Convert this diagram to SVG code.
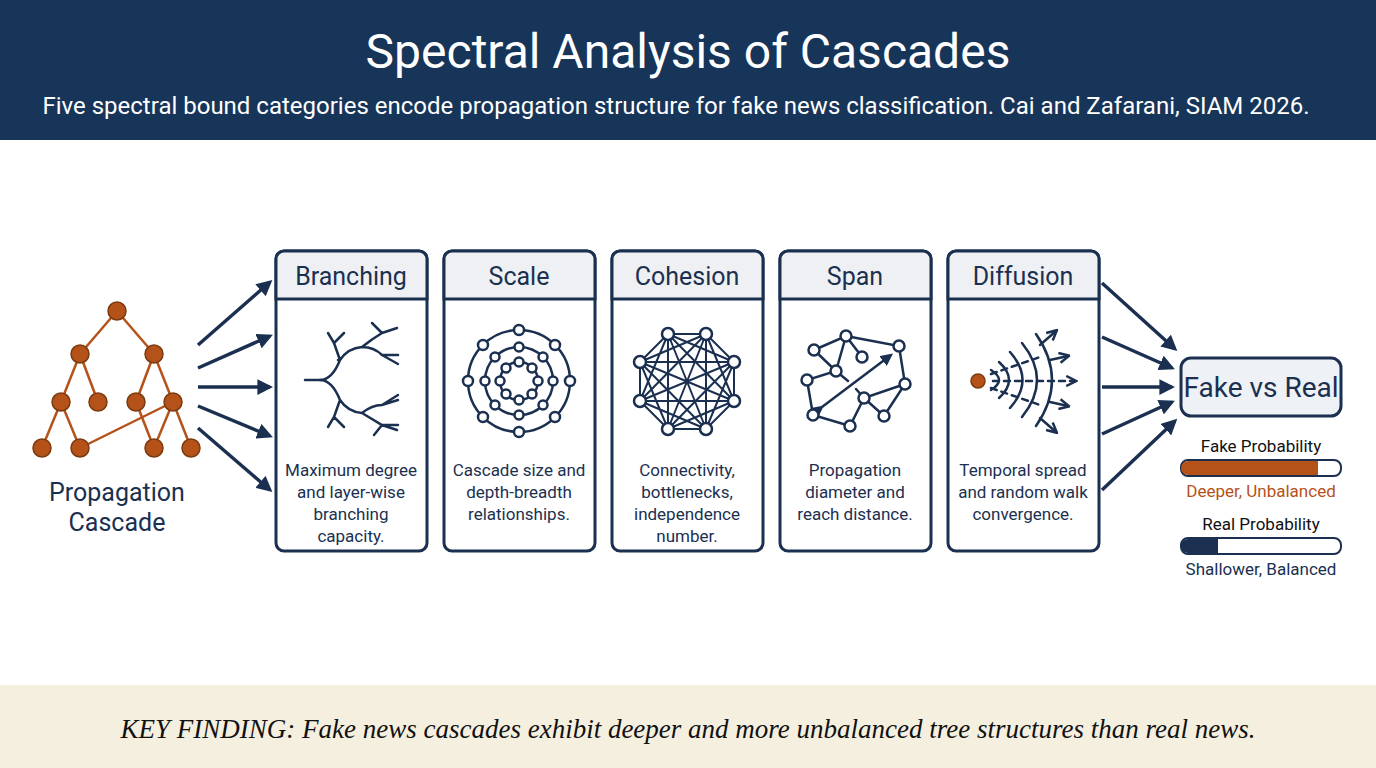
<svg xmlns="http://www.w3.org/2000/svg" width="1376" height="768" viewBox="0 0 1376 768">
<defs>
<style>
.s{font-family:Roboto,"Liberation Sans",sans-serif;fill:#1b3050}
.card{fill:#fff;stroke:#1b3050;stroke-width:3}
.ch{fill:#eef0f3;stroke:#1b3050;stroke-width:3}
.ct{font-size:17px;text-anchor:middle}
.ht{font-size:25px;text-anchor:middle}
.ic{fill:none;stroke:#1b3050;stroke-width:2.5;stroke-linecap:round}
.nd{fill:#fff;stroke:#1b3050;stroke-width:2.5}
.te{stroke:#b5521a;stroke-width:2.5}
.tn{fill:#b5521a;stroke:#7a3a10;stroke-width:1.5}
.ar{stroke:#1b3050;stroke-width:3.5;fill:none;marker-end:url(#ah)}
</style>
<marker id="ah" viewBox="0 0 10 10" refX="8" refY="5" markerWidth="4.5" markerHeight="4.5" orient="auto"><path d="M0,0L10,5L0,10z" fill="#1b3050"/></marker>
<marker id="sa" viewBox="0 0 10 10" refX="8" refY="5" markerWidth="5" markerHeight="5" orient="auto"><path d="M0,0L10,5L0,10z" fill="#1b3050"/></marker>
<marker id="oa" viewBox="0 0 10 10" refX="8" refY="5" markerWidth="5" markerHeight="5" orient="auto"><path d="M1,1L9,5L1,9" fill="none" stroke="#1b3050" stroke-width="2"/></marker>
</defs>
<rect width="1376" height="768" fill="#fff"/>
<g id="header">
<rect width="1376" height="140" fill="#173459"/>
<text x="688" y="68" font-family="Roboto,sans-serif" font-size="48" fill="#fff" text-anchor="middle">Spectral Analysis of Cascades</text>
<text x="676" y="114" font-family="Roboto,sans-serif" font-size="24" fill="#fff" text-anchor="middle">Five spectral bound categories encode propagation structure for fake news classification. Cai and Zafarani, SIAM 2026.</text>
</g>
<g id="cascade">
<g class="te">
<line x1="117" y1="311" x2="80" y2="354"/><line x1="117" y1="311" x2="154" y2="354"/>
<line x1="80" y1="354" x2="61" y2="402"/><line x1="80" y1="354" x2="98" y2="402"/>
<line x1="154" y1="354" x2="136" y2="402"/><line x1="154" y1="354" x2="173" y2="402"/>
<line x1="61" y1="402" x2="42" y2="448"/><line x1="61" y1="402" x2="80" y2="448"/>
<line x1="173" y1="402" x2="80" y2="448"/><line x1="136" y1="402" x2="154" y2="448"/>
<line x1="173" y1="402" x2="154" y2="448"/><line x1="173" y1="402" x2="191" y2="448"/>
</g>
<g class="tn">
<circle cx="117" cy="311" r="9"/><circle cx="80" cy="354" r="9"/><circle cx="154" cy="354" r="9"/>
<circle cx="61" cy="402" r="9"/><circle cx="98" cy="402" r="9"/><circle cx="136" cy="402" r="9"/><circle cx="173" cy="402" r="9"/>
<circle cx="42" cy="448" r="9"/><circle cx="80" cy="448" r="9"/><circle cx="154" cy="448" r="9"/><circle cx="191" cy="448" r="9"/>
</g>
<text class="s" x="117" y="501" font-size="25" text-anchor="middle">Propagation</text>
<text class="s" x="117" y="531" font-size="25" text-anchor="middle">Cascade</text>
</g>
<g id="connectors">
<line class="ar" x1="198" y1="345" x2="270" y2="282"/>
<line class="ar" x1="198" y1="368" x2="270" y2="336"/>
<line class="ar" x1="198" y1="387" x2="270" y2="387"/>
<line class="ar" x1="198" y1="406" x2="270" y2="436"/>
<line class="ar" x1="198" y1="428" x2="270" y2="490"/>
<line class="ar" x1="1102" y1="283" x2="1175" y2="349"/>
<line class="ar" x1="1102" y1="337" x2="1172" y2="368"/>
<line class="ar" x1="1102" y1="387" x2="1172" y2="387"/>
<line class="ar" x1="1102" y1="434" x2="1172" y2="402"/>
<line class="ar" x1="1102" y1="490" x2="1175" y2="421"/>
</g>
<g id="branching">
<rect class="card" x="276" y="251" width="151" height="300" rx="8"/>
<path class="ch" d="M284,251h135a8,8 0 0 1 8,8v40h-151v-40a8,8 0 0 1 8,-8z"/>
<text class="s ht" x="351" y="285">Branching</text>
<g class="ic">
<path d="M305,380h15q12,0 20,-20q8,-12 22,-13M340,360l-6,-17M340,360l-2,0M362,347q10,-8 20,-14l15,-5M382,333l-10,-10M382,333l15,-5M362,347q12,0 20,8l16,0M382,355l16,9M334,343l-6,-10M334,343l10,-10"/>
<path d="M320,380q12,0 20,20q8,12 22,13M340,400l-6,17M334,417l-6,10M334,417l10,10M362,413q10,-8 20,-8l16,-5M382,405l16,-10M362,413q10,6 20,12l15,5M382,425l-8,10M382,425l16,0"/>
</g>
<text class="s ct" x="351" y="476">Maximum degree</text>
<text class="s ct" x="351" y="498">and layer-wise</text>
<text class="s ct" x="351" y="520">branching</text>
<text class="s ct" x="351" y="542">capacity.</text>
</g>
<g id="scale">
<rect class="card" x="444" y="251" width="151" height="300" rx="8"/>
<path class="ch" d="M452,251h135a8,8 0 0 1 8,8v40h-151v-40a8,8 0 0 1 8,-8z"/>
<text class="s ht" x="519" y="285">Scale</text>
<g class="ic"><circle cx="519" cy="381" r="51"/><circle cx="519" cy="381" r="34"/><circle cx="519" cy="381" r="19"/></g>
<g class="nd">
<circle cx="519" cy="330" r="5"/><circle cx="555" cy="345" r="5"/><circle cx="570" cy="381" r="5"/><circle cx="555" cy="417" r="5"/><circle cx="519" cy="432" r="5"/><circle cx="483" cy="417" r="5"/><circle cx="468" cy="381" r="5"/><circle cx="483" cy="345" r="5"/>
<circle cx="519" cy="347" r="4.5"/><circle cx="543" cy="357" r="4.5"/><circle cx="553" cy="381" r="4.5"/><circle cx="543" cy="405" r="4.5"/><circle cx="519" cy="415" r="4.5"/><circle cx="495" cy="405" r="4.5"/><circle cx="485" cy="381" r="4.5"/><circle cx="495" cy="357" r="4.5"/>
<circle cx="519" cy="362" r="4.5"/><circle cx="532" cy="368" r="4.5"/><circle cx="538" cy="381" r="4.5"/><circle cx="532" cy="394" r="4.5"/><circle cx="519" cy="400" r="4.5"/><circle cx="506" cy="394" r="4.5"/><circle cx="500" cy="381" r="4.5"/><circle cx="506" cy="368" r="4.5"/>
</g>
<text class="s ct" x="519" y="476">Cascade size and</text>
<text class="s ct" x="519" y="498">depth-breadth</text>
<text class="s ct" x="519" y="520">relationships.</text>
</g>
<g id="cohesion">
<rect class="card" x="612" y="251" width="151" height="300" rx="8"/>
<path class="ch" d="M620,251h135a8,8 0 0 1 8,8v40h-151v-40a8,8 0 0 1 8,-8z"/>
<text class="s ht" x="687" y="285">Cohesion</text>
<g stroke="#1b3050" stroke-width="2">
<path d="M668,334L706,334L734,362L734,401L706,429L668,429L640,401L640,362Z" fill="none"/>
<path d="M668,334L734,362M668,334L734,401M668,334L706,429M668,334L668,429M668,334L640,401M706,334L640,362M706,334L640,401M706,334L668,429M706,334L706,429M706,334L734,401M640,362L734,362M640,362L734,401M640,362L706,429M640,362L668,429M734,362L640,401M734,362L668,429M734,362L706,429M640,401L734,401M640,401L706,429M734,401L668,429"/>
</g>
<g class="nd">
<circle cx="668" cy="334" r="6"/><circle cx="706" cy="334" r="6"/><circle cx="734" cy="362" r="6"/><circle cx="734" cy="401" r="6"/><circle cx="706" cy="429" r="6"/><circle cx="668" cy="429" r="6"/><circle cx="640" cy="401" r="6"/><circle cx="640" cy="362" r="6"/>
</g>
<text class="s ct" x="687" y="476">Connectivity,</text>
<text class="s ct" x="687" y="498">bottlenecks,</text>
<text class="s ct" x="687" y="520">independence</text>
<text class="s ct" x="687" y="542">number.</text>
</g>
<g id="span">
<rect class="card" x="780" y="251" width="151" height="300" rx="8"/>
<path class="ch" d="M788,251h135a8,8 0 0 1 8,8v40h-151v-40a8,8 0 0 1 8,-8z"/>
<text class="s ht" x="855" y="285">Span</text>
<g class="ic" stroke-width="2">
<path d="M814,350L846,336L862,357M846,336L899,346L905,384L884,416M846,336L836,371M814,350L836,371L807,380L813,415L850,426L864,398L905,384M864,398L884,416M836,371L848,381M856,389L864,398"/>
</g>
<line x1="822" y1="407" x2="891" y2="355" stroke="#1b3050" stroke-width="2.5" marker-start="url(#sa)" marker-end="url(#sa)"/>
<g class="nd" stroke-width="2">
<circle cx="814" cy="350" r="5.5"/><circle cx="846" cy="336" r="5.5"/><circle cx="862" cy="357" r="5.5"/><circle cx="899" cy="346" r="5.5"/><circle cx="836" cy="371" r="5.5"/><circle cx="807" cy="380" r="5.5"/><circle cx="905" cy="384" r="5.5"/><circle cx="864" cy="398" r="5.5"/><circle cx="813" cy="415" r="5.5"/><circle cx="850" cy="426" r="5.5"/><circle cx="884" cy="416" r="5.5"/>
</g>
<text class="s ct" x="855" y="476">Propagation</text>
<text class="s ct" x="855" y="498">diameter and</text>
<text class="s ct" x="855" y="520">reach distance.</text>
</g>
<g id="diffusion">
<rect class="card" x="948" y="251" width="151" height="300" rx="8"/>
<path class="ch" d="M956,251h135a8,8 0 0 1 8,8v40h-151v-40a8,8 0 0 1 8,-8z"/>
<text class="s ht" x="1023" y="285">Diffusion</text>
<g class="ic">
<path d="M991,370q16,10 0,20"/>
<path d="M999,362q20,18 0,36"/>
<path d="M1010,352q25,28 0,56"/>
<path d="M1022,343q30,37 0,74"/>
<path d="M1036,334q32,46 0,92"/>
</g>
<g class="ic" stroke-width="2" stroke-dasharray="6,5">
<line x1="993" y1="381" x2="1075" y2="381" marker-end="url(#oa)" stroke-dasharray="6,5"/>
<path d="M991,374L1040,357" /><path d="M991,388L1040,405"/>
</g>
<g class="ic" stroke-width="2">
<line x1="1040" y1="345" x2="1056" y2="331" marker-end="url(#oa)"/>
<line x1="1050" y1="360" x2="1068" y2="356" marker-end="url(#oa)"/>
<line x1="1050" y1="402" x2="1068" y2="406" marker-end="url(#oa)"/>
<line x1="1040" y1="418" x2="1056" y2="432" marker-end="url(#oa)"/>
</g>
<circle cx="978" cy="381" r="7" class="tn"/>
<text class="s ct" x="1023" y="476">Temporal spread</text>
<text class="s ct" x="1023" y="498">and random walk</text>
<text class="s ct" x="1023" y="520">convergence.</text>
</g>
<g id="result">
<rect x="1181" y="358" width="160" height="58" rx="10" fill="#eef1f5" stroke="#1b3050" stroke-width="3"/>
<text class="s" x="1261" y="397" font-size="28" text-anchor="middle">Fake vs Real</text>
<text x="1261" y="452" font-family="Roboto,sans-serif" font-size="17" fill="#111" text-anchor="middle">Fake Probability</text>
<rect x="1181" y="460" width="160" height="16" rx="7" fill="#fff" stroke="#1b3050" stroke-width="2"/>
<path d="M1188,461h130v14h-130a7,7 0 0 1 0,-14z" fill="#b5521a"/>
<text x="1261" y="497" font-family="Roboto,sans-serif" font-size="17" fill="#b5521a" text-anchor="middle">Deeper, Unbalanced</text>
<text x="1261" y="530" font-family="Roboto,sans-serif" font-size="17" fill="#111" text-anchor="middle">Real Probability</text>
<rect x="1181" y="538" width="160" height="16" rx="7" fill="#fff" stroke="#1b3050" stroke-width="2"/>
<path d="M1188,539h30v14h-30a7,7 0 0 1 0,-14z" fill="#1b3050"/>
<text class="s" x="1261" y="575" font-size="17" text-anchor="middle">Shallower, Balanced</text>
</g>
<g id="footer">
<rect y="685" width="1376" height="83" fill="#f5efe0"/>
<text x="688" y="738" font-family="'Liberation Serif',serif" font-style="italic" font-size="27" fill="#111" text-anchor="middle">KEY FINDING: Fake news cascades exhibit deeper and more unbalanced tree structures than real news.</text>
</g>
</svg>
